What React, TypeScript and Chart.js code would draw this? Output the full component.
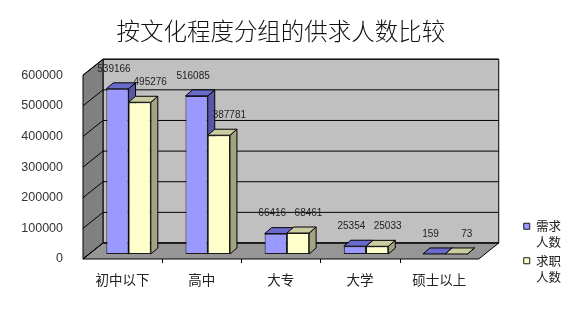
import React, { useEffect, useRef } from 'react';
import { Chart, registerables } from 'chart.js';

Chart.register(...registerables);

const titleText = '按文化程度分组的供求人数比较';
const categories = ['初中以下', '高中', '大专', '大学', '硕士以上'];
const seriesNames = ['需求人数', '求职人数'];
const demand = [539166, 516085, 66416, 25354, 159];
const supply = [495276, 387781, 68461, 25033, 73];
const yTicks = [0, 100000, 200000, 300000, 400000, 500000, 600000];

const frontColors = ['#9999FF', '#FFFFCC'];
const topColors = ['#6A6ACC', '#CCCCA3'];
const sideColors = ['#5858A8', '#A3A382'];

const WALL_DX = 20;
const WALL_DY = -16;
const BAR_OX = 6;
const BAR_OY = -5;
const BAR_DX = 7;
const BAR_DY = -6;

const CJK = '"Noto Sans CJK SC", sans-serif';
const LATIN = '"Liberation Sans", Arial, sans-serif';

function poly(ctx: CanvasRenderingContext2D, pts: number[][], fill: string) {
  ctx.beginPath();
  ctx.moveTo(pts[0][0], pts[0][1]);
  for (let i = 1; i < pts.length; i++) ctx.lineTo(pts[i][0], pts[i][1]);
  ctx.closePath();
  ctx.fillStyle = fill;
  ctx.fill();
  ctx.stroke();
}

function seg(ctx: CanvasRenderingContext2D, x1: number, y1: number, x2: number, y2: number) {
  ctx.beginPath();
  ctx.moveTo(x1, y1);
  ctx.lineTo(x2, y2);
  ctx.stroke();
}

const threeD = {
  id: 'threeD',
  beforeDatasetsDraw(chart: any) {
    const { ctx, chartArea: a, scales } = chart;
    const ys = scales.y;
    const L = a.left, R = a.right, T = a.top, B = a.bottom;
    ctx.save();
    ctx.lineWidth = 1;
    ctx.strokeStyle = '#000';
    // back wall
    poly(ctx, [[L + WALL_DX, T + WALL_DY], [R + WALL_DX, T + WALL_DY], [R + WALL_DX, B + WALL_DY], [L + WALL_DX, B + WALL_DY]], '#C0C0C0');
    // left wall
    poly(ctx, [[L, T], [L + WALL_DX, T + WALL_DY], [L + WALL_DX, B + WALL_DY], [L, B]], '#808080');
    // floor
    poly(ctx, [[L, B], [L + WALL_DX, B + WALL_DY], [R + WALL_DX, B + WALL_DY], [R, B]], '#969696');
    // gridlines
    yTicks.forEach((v) => {
      const p = ys.getPixelForValue(v);
      seg(ctx, L, p, L + WALL_DX, p + WALL_DY);
      seg(ctx, L + WALL_DX, p + WALL_DY, R + WALL_DX, p + WALL_DY);
    });
    // category tick marks on floor front edge
    const n = categories.length;
    for (let i = 1; i < n; i++) {
      const bx = Math.round(L + (i * (R - L)) / n) + 0.5;
      seg(ctx, bx, B, bx, B + 4);
    }
    // bar top and side faces
    for (let i = 0; i < n; i++) {
      chart.data.datasets.forEach((_ds: any, di: number) => {
        const el = chart.getDatasetMeta(di).data[i];
        if (!el) return;
        const { x, y, base, width } = el.getProps(['x', 'y', 'base', 'width'], true);
        const xl = x - width / 2 + BAR_OX;
        const xr = x + width / 2 + BAR_OX;
        const yt = y + BAR_OY;
        const yb = base + BAR_OY;
        poly(ctx, [[xr, yt], [xr + BAR_DX, yt + BAR_DY], [xr + BAR_DX, yb + BAR_DY], [xr, yb]], sideColors[di]);
        poly(ctx, [[xl, yt], [xr, yt], [xr + BAR_DX, yt + BAR_DY], [xl + BAR_DX, yt + BAR_DY]], topColors[di]);
      });
    }
    ctx.restore();
    ctx.save();
    ctx.translate(BAR_OX, BAR_OY);
  },
  afterDatasetsDraw(chart: any) {
    const { ctx } = chart;
    ctx.restore();
    ctx.save();
    ctx.font = '10px ' + LATIN;
    ctx.fillStyle = '#222';
    ctx.textAlign = 'center';
    ctx.textBaseline = 'middle';
    chart.data.datasets.forEach((ds: any, di: number) => {
      chart.getDatasetMeta(di).data.forEach((el: any, i: number) => {
        const { x, y } = el.getProps(['x', 'y'], true);
        const lx = x + BAR_OX + BAR_DX / 2 + (di === 0 ? -7 : 7);
        const ly = y + BAR_OY + BAR_DY - 14;
        ctx.fillText(String(ds.data[i]), lx, ly);
      });
    });
    ctx.restore();
  },
};

export default function App() {
  const ref = useRef<HTMLCanvasElement>(null);
  useEffect(() => {
    if (!ref.current) return;
    const chart = new Chart(ref.current, {
      type: 'bar',
      data: {
        labels: categories,
        datasets: [
          {
            label: seriesNames[0],
            data: demand,
            backgroundColor: frontColors[0],
            borderColor: '#1a1a1a',
            borderWidth: 1,
            borderSkipped: false,
            categoryPercentage: 0.562,
            barPercentage: 1,
            yAxisID: 'y',
          },
          {
            label: seriesNames[1],
            data: supply,
            backgroundColor: frontColors[1],
            borderColor: '#1a1a1a',
            borderWidth: 1,
            borderSkipped: false,
            categoryPercentage: 0.562,
            barPercentage: 1,
            yAxisID: 'y',
          },
        ],
      },
      options: {
        responsive: false,
        animation: false,
        events: [],
        layout: { padding: { top: 0, left: 0, right: 1, bottom: 39 } },
        scales: {
          x: {
            grid: { display: false, drawTicks: false },
            border: { display: false },
            ticks: { padding: 13, color: '#222', font: { family: CJK, size: 13.5 } },
            afterFit: (s: any) => { s.height = 30; },
          },
          y: {
            min: 0,
            max: 600000,
            grid: { display: false, drawTicks: false },
            border: { display: false },
            ticks: {
              stepSize: 100000,
              padding: 20,
              color: '#333',
              font: { family: LATIN, size: 12.5 },
              callback: (v: any) => String(v),
            },
            afterFit: (s: any) => { s.width = 83; },
          },
          gap: {
            type: 'linear',
            position: 'right',
            display: true,
            grid: { display: false, drawTicks: false },
            border: { display: false },
            ticks: { display: false },
            afterFit: (s: any) => { s.width = 43; },
          },
        },
        plugins: {
          title: {
            display: true,
            text: titleText,
            fullSize: false,
            color: '#111',
            font: { family: CJK, size: 23.5, weight: 300, lineHeight: 1.2 },
            padding: { top: 17, bottom: 30 },
          },
          legend: {
            display: true,
            position: 'right',
            align: 'end',
            labels: {
              boxWidth: 6,
              boxHeight: 6,
              padding: 2,
              color: '#222',
              font: { family: CJK, size: 12.5, lineHeight: 1.3 },
              generateLabels: (c: any) =>
                (Chart.defaults.plugins.legend.labels as any).generateLabels(c).map((it: any) => ({
                  ...it,
                  text: [it.text.slice(0, 2), it.text.slice(2)],
                })),
            },
          },
          tooltip: { enabled: false },
        },
      },
      plugins: [threeD],
    } as any);
    return () => chart.destroy();
  }, []);
  return (
    <div style={{ position: 'absolute', left: 0, top: 0, width: 572, height: 328 }}>
      <canvas ref={ref} width={572} height={328} style={{ display: 'block' }} />
    </div>
  );
}
